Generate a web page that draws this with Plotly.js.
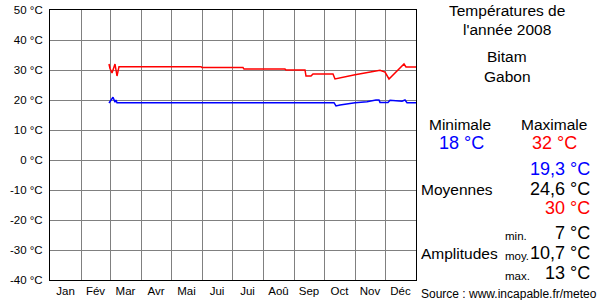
<!DOCTYPE html>
<html>
<head>
<meta charset="utf-8">
<script src="https://cdn.plot.ly/plotly-3.0.1.min.js"></script>
<style>
html,body{margin:0;padding:0;background:#fff;}
#chart{width:600px;height:300px;}
</style>
</head>
<body>
<div id="chart"></div>
<script>
// ---- data (day of year, 0 = 1 January 2008) ----
const maxDays = [59, 60, 62, 65, 67, 69, 151, 152, 193, 194, 235, 236, 255, 256, 261, 263, 283, 285, 305, 330, 335, 339, 354, 356, 366];
const maxTemps = [32, 30.5, 29, 32, 28, 31.1, 31.1, 30.8, 30.8, 30.3, 30.3, 30, 30, 28, 28, 28.7, 28.7, 27, 28.4, 29.9, 29.3, 27, 32, 31, 31];
const minDays = [59, 60, 63, 65, 66, 67, 284, 286, 290, 305, 317, 326, 329, 330, 338, 340, 352, 355, 357, 366];
const minTemps = [19, 19.5, 20.9, 19.3, 20, 19.1, 19.1, 18, 18.3, 19.1, 19.4, 20, 20, 19.2, 19.2, 19.9, 19.6, 20, 19.1, 19.1];

const monthLabels = ['Jan', 'Fév', 'Mar', 'Avr', 'Mai', 'Jui', 'Jui', 'Aoû', 'Sep', 'Oct', 'Nov', 'Déc'];
const monthLengths = [31, 29, 31, 30, 31, 30, 31, 31, 30, 31, 30, 31];
const yTicks = [-40, -30, -20, -10, 0, 10, 20, 30, 40, 50];
const yTickLabels = yTicks.map(v => v + ' °C');

const stationTitle = ['Températures de', "l'année 2008"];
const stationName = ['Bitam', 'Gabon'];
const extremes = {minimale: '18 °C', maximale: '32 °C'};
const averages = ['19,3 °C', '24,6 °C', '30 °C'];
const amplitudes = ['7 °C', '10,7 °C', '13 °C'];
const amplitudeKeys = ['min.', 'moy.', 'max.'];
const sourceText = 'Source : www.incapable.fr/meteo';

// ---- derived tick positions ----
const boundaries = [];
const mids = [];
let acc = 0;
monthLengths.forEach(len => { mids.push(acc + len / 2); acc += len; boundaries.push(acc); });
boundaries.pop();
const yearLen = acc;

// ---- layout helpers ----
const W = 600, H = 300;
const M = {l: 50, r: 184, t: 10, b: 20};
const PW = W - M.l - M.r, PH = H - M.t - M.b;
const px = X => (X - M.l) / PW;
const py = Y => (H - M.b - Y) / PH;
const FONT = 'Liberation Sans, Arial, sans-serif';

function ann(text, X, Y, size, color, anchor) {
  return {
    text: text, xref: 'paper', yref: 'paper', x: px(X), y: py(Y),
    xanchor: anchor || 'center', yanchor: 'middle', showarrow: false,
    borderpad: 0, borderwidth: 0,
    font: {family: FONT, size: size, color: color || '#000'}
  };
}

const annotations = [
  ann(stationTitle[0], 507, 10, 15.5),
  ann(stationTitle[1], 507, 29.5, 15.5),
  ann(stationName[0], 507, 56.5, 15.5),
  ann(stationName[1], 507, 76, 15.5),
  ann('Minimale', 460, 124.5, 15.5),
  ann('Maximale', 554, 124.5, 15.5),
  ann(extremes.minimale, 462, 142.5, 18, '#0000ff'),
  ann(extremes.maximale, 554, 142.5, 18, '#ff0000'),
  ann(averages[0], 590, 168.5, 18, '#0000ff', 'right'),
  ann('Moyennes', 421, 189.5, 15.5, '#000', 'left'),
  ann(averages[1], 590, 189, 18, '#000', 'right'),
  ann(averages[2], 590, 208, 18, '#ff0000', 'right'),
  ann(amplitudeKeys[0], 505, 236, 11.5, '#000', 'left'),
  ann(amplitudes[0], 590, 233, 18, '#000', 'right'),
  ann('Amplitudes', 421, 253.5, 15.5, '#000', 'left'),
  ann(amplitudeKeys[1], 505, 256, 11.5, '#000', 'left'),
  ann(amplitudes[1], 590, 253, 18, '#000', 'right'),
  ann(amplitudeKeys[2], 505, 275.5, 11.5, '#000', 'left'),
  ann(amplitudes[2], 590, 273, 18, '#000', 'right'),
  ann(sourceText, 421, 294, 12, '#000', 'left')
];

const traces = [
  {x: maxDays, y: maxTemps, type: 'scatter', mode: 'lines', line: {color: '#ff0000', width: 1.5}, hoverinfo: 'skip'},
  {x: minDays, y: minTemps, type: 'scatter', mode: 'lines', line: {color: '#0000ff', width: 1.5}, hoverinfo: 'skip'}
];

const layout = {
  width: W, height: H,
  margin: M,
  paper_bgcolor: '#fff', plot_bgcolor: '#fff',
  showlegend: false,
  font: {family: FONT, size: 11.5, color: '#000'},
  xaxis: {
    range: [0, yearLen], fixedrange: true,
    tickmode: 'array', tickvals: mids, ticktext: monthLabels,
    showgrid: false, zeroline: false, ticks: '',
    showline: true, linecolor: '#000', linewidth: 1, mirror: true,
    tickfont: {family: FONT, size: 11.5, color: '#000'},
    minor: {tickmode: 'array', tickvals: boundaries, showgrid: true, gridcolor: '#808080', gridwidth: 1, ticks: ''}
  },
  yaxis: {
    range: [-40, 50], fixedrange: true,
    tickmode: 'array', tickvals: yTicks, ticktext: yTickLabels,
    showgrid: true, gridcolor: '#808080', gridwidth: 1, zeroline: false, ticks: '',
    ticklabelstandoff: 4,
    showline: true, linecolor: '#000', linewidth: 1, mirror: true,
    tickfont: {family: FONT, size: 11.5, color: '#000'}
  },
  annotations: annotations
};

Plotly.newPlot('chart', traces, layout, {staticPlot: true, displayModeBar: false});
</script>
</body>
</html>
